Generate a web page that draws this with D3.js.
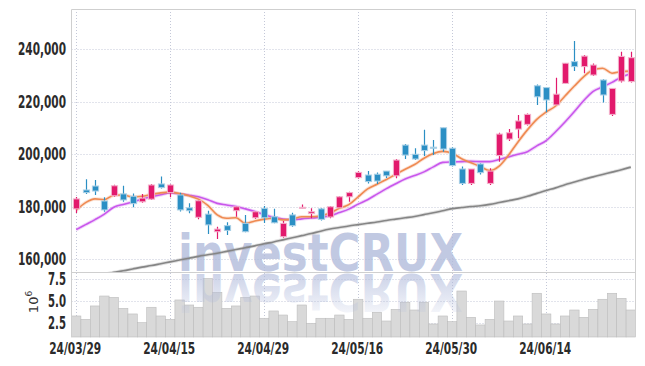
<!DOCTYPE html>
<html>
<head>
<meta charset="utf-8">
<script src="https://cdn.jsdelivr.net/npm/d3@7"></script>
<style>
  body { margin: 0; background: #fff; }
  svg { display: block; }
  .lbl { font-family: "DejaVu Sans Condensed", "DejaVu Sans", sans-serif; font-stretch: condensed; font-weight: bold; fill: #2b2b2b; }
</style>
</head>
<body>
<script>
const W = 645, H = 366;
const plotL = 71.5, plotR = 635.5;
const plotT = 9, mainBottom = 272, volBottom = 337;

// 데이터 (가격: 천원 단위)
const dateLabels = ['24/03/29', '24/04/15', '24/04/29', '24/05/16', '24/05/30', '24/06/14'];
const dateIndex = [0, 10, 20, 30, 40, 50];

const open = [179.2, 186.4, 187.9, 182.2, 184.2, 184.9, 184.0, 181.9, 182.9, 188.7,
  185.4, 184.5, 179.6, 176.0, 177.2, 170.5, 172.8, 178.5, 173.7, 175.8,
  179.4, 176.2, 168.6, 176.9, 179.4, 177.4, 179.2, 176.1, 179.6, 183.8,
  191.1, 192.1, 192.4, 193.6, 191.8, 203.5, 200.0, 203.5, 202.7, 210.1,
  202.3, 194.4, 188.9, 196.3, 188.9, 199.5, 205.8, 209.6, 211.4, 226.1,
  225.4, 218.8, 227.0, 235.3, 233.4, 230.2, 228.3, 215.2, 227.9, 227.7];
const high = [183.7, 190.5, 190.2, 183.6, 188.4, 188.0, 185.1, 184.9, 188.7, 191.5,
  188.6, 185.3, 181.3, 182.6, 178.5, 172.4, 174.1, 180.3, 176.9, 178.4,
  180.3, 179.2, 174.6, 177.7, 180.9, 179.4, 179.5, 180.3, 184.0, 185.7,
  193.5, 193.6, 193.1, 193.6, 198.2, 203.9, 202.3, 209.3, 205.4, 210.1,
  202.7, 195.3, 194.4, 196.6, 194.7, 208.2, 209.6, 215.0, 215.5, 226.6,
  225.4, 229.2, 234.8, 243.2, 237.8, 234.6, 228.6, 225.1, 239.1, 239.1];
const low = [177.6, 184.9, 184.5, 178.1, 183.8, 181.9, 179.8, 181.5, 182.6, 187.0,
  183.6, 178.2, 177.5, 175.2, 169.6, 167.7, 169.2, 176.2, 170.3, 175.3,
  173.8, 173.7, 168.2, 172.4, 179.4, 175.6, 174.8, 175.6, 179.6, 181.9,
  190.7, 188.9, 188.7, 191.0, 190.9, 198.2, 197.8, 199.3, 199.7, 201.0,
  195.3, 188.3, 188.3, 192.3, 188.3, 197.2, 205.1, 206.1, 211.0, 218.8,
  216.0, 218.8, 226.9, 231.7, 230.9, 229.8, 219.7, 214.6, 227.3, 227.3];
const close = [183.0, 185.4, 186.0, 178.8, 188.0, 182.6, 181.2, 183.3, 188.3, 187.3,
  188.3, 178.8, 178.5, 182.3, 173.1, 171.5, 171.0, 180.0, 170.5, 178.1,
  175.8, 173.9, 173.7, 172.8, 179.8, 178.1, 175.2, 180.0, 183.8, 185.4,
  193.1, 189.6, 189.8, 191.8, 197.8, 199.7, 198.2, 201.4, 202.3, 202.0,
  195.7, 188.9, 194.4, 193.0, 193.6, 207.7, 208.2, 212.7, 215.2, 221.9,
  220.7, 222.9, 234.7, 233.4, 237.4, 234.0, 222.6, 225.1, 237.3, 236.8];

// 거래량 (10^6)
const volume = [3.33, 2.95, 4.47, 5.6, 5.45, 4.2, 3.56, 2.57, 4.32, 3.33,
  2.95, 5.15, 4.58, 4.32, 7.6, 6.02, 4.2, 4.47, 5.45, 5.6,
  3.07, 3.9, 3.44, 2.68, 4.58, 2.5, 3.07, 3.07, 3.44, 2.95,
  5.23, 3.07, 3.75, 2.76, 4.09, 4.89, 4.01, 4.89, 2.42, 3.33,
  2.68, 6.17, 3.18, 2.31, 2.95, 5.03, 2.76, 3.33, 2.42, 5.91,
  3.56, 2.42, 3.33, 4.01, 3.18, 4.09, 5.23, 5.91, 5.34, 4.01];

// 이동평균선
const ma5 = [178.7, 181.6, 183.0, 182.7, 184.4, 184.5, 183.7, 184.0, 184.7, 185.3,
  185.6, 185.0, 184.2, 182.9, 180.5, 176.9, 175.6, 175.8, 173.7, 174.6,
  175.3, 175.6, 175.0, 175.3, 176.2, 176.2, 176.5, 177.6, 179.4, 180.8,
  183.8, 186.8, 188.6, 190.4, 192.4, 194.3, 196.1, 198.5, 200.3, 201.1,
  200.4, 198.3, 196.8, 195.3, 193.8, 195.5, 199.7, 204.7, 209.3, 213.3,
  216.1, 218.4, 222.2, 226.0, 229.6, 232.2, 232.8, 230.9, 231.5, 231.7];
const ma20 = [171.3, 173.2, 175.1, 177.2, 179.8, 180.9, 181.8, 182.9, 183.8, 184.6,
  185.3, 184.9, 184.4, 183.8, 182.7, 181.3, 180.7, 180.1, 179.2, 178.2,
  177.0, 176.0, 175.3, 175.0, 175.4, 175.7, 176.0, 176.6, 177.8, 179.1,
  181.0, 182.7, 184.8, 186.9, 188.8, 190.6, 191.9, 193.3, 195.2, 196.9,
  197.1, 197.2, 197.3, 197.2, 197.2, 198.0, 199.0, 200.0, 201.0, 203.2,
  205.2, 208.6, 212.3, 216.3, 220.5, 224.0, 225.7, 227.4, 229.4, 230.7];
const ma60 = [152.2, 152.9, 153.6, 154.3, 155.0, 155.6, 156.3, 157.0, 157.6, 158.3,
  159.0, 159.7, 160.4, 161.1, 161.7, 162.3, 163.0, 163.7, 164.4, 165.1,
  165.9, 166.6, 167.4, 168.2, 169.0, 169.8, 170.7, 171.5, 172.1, 172.7,
  173.2, 173.7, 174.2, 174.8, 175.3, 175.8, 176.3, 177.0, 177.7, 178.5,
  179.3, 179.7, 180.1, 180.4, 180.9, 181.6, 182.3, 183.0, 184.0, 185.1,
  186.2, 187.2, 188.4, 189.4, 190.5, 191.4, 192.3, 193.2, 194.1, 195.1];

const priceTicks = [160, 180, 200, 220, 240];
const volTicks = [2.5, 5.0, 7.5];

const upColor = '#e2196c';
const downColor = '#2b8fc4';

const svg = d3.select('body').append('svg')
  .attr('width', W)
  .attr('height', H);

const defs = svg.append('defs');
defs.append('clipPath').attr('id', 'mainClip')
  .append('rect')
  .attr('x', plotL).attr('y', plotT)
  .attr('width', plotR - plotL).attr('height', mainBottom - plotT);
const grad = defs.append('linearGradient').attr('id', 'fade')
  .attr('gradientUnits', 'userSpaceOnUse')
  .attr('x1', 0).attr('y1', mainBottom).attr('x2', 0).attr('y2', mainBottom - 44);
grad.append('stop').attr('offset', 0).attr('stop-color', '#b0badb').attr('stop-opacity', 0.65);
grad.append('stop').attr('offset', 1).attr('stop-color', '#b0badb').attr('stop-opacity', 0.1);

// 스케일
const x = d3.scaleBand()
  .domain(d3.range(open.length))
  .range([plotL, plotR])
  .padding(0);
const cx = i => x(i) + x.bandwidth() / 2;

const y = d3.scaleLinear()
  .domain([155.15, 255.35])
  .range([mainBottom, plotT]);

const yv = d3.scaleLinear()
  .domain([0.94, 8.33])
  .range([volBottom, mainBottom]);

// 그리드
const grid = svg.append('g')
  .attr('stroke', '#c4c8d8')
  .attr('stroke-width', 1)
  .attr('stroke-dasharray', '1,2');
grid.selectAll('.hg').data(priceTicks).enter().append('line')
  .attr('x1', plotL).attr('x2', plotR)
  .attr('y1', d => Math.round(y(d)) + 0.5).attr('y2', d => Math.round(y(d)) + 0.5);
grid.selectAll('.vg').data(volTicks).enter().append('line')
  .attr('x1', plotL).attr('x2', plotR)
  .attr('y1', d => Math.round(yv(d)) + 0.5).attr('y2', d => Math.round(yv(d)) + 0.5);
grid.selectAll('.xg').data(dateIndex).enter().append('line')
  .attr('x1', d => Math.round(cx(d)) + 0.5).attr('x2', d => Math.round(cx(d)) + 0.5)
  .attr('y1', plotT).attr('y2', volBottom);

// 거래량 막대
svg.append('g').selectAll('rect')
  .data(volume)
  .enter()
  .append('rect')
  .attr('x', (d, i) => x(i))
  .attr('y', d => yv(d))
  .attr('width', x.bandwidth())
  .attr('height', d => volBottom - yv(d))
  .attr('fill', '#d9d9d9')
  .attr('stroke', '#bdbdbd')
  .attr('stroke-width', 0.6);

// 워터마크
const wmFont = g => g
  .attr('x', 178).attr('y', mainBottom - 1)
  .attr('textLength', 285)
  .attr('lengthAdjust', 'spacingAndGlyphs')
  .style('font-family', 'DejaVu Sans, sans-serif')
  .style('font-weight', 'bold')
  .style('font-size', '52px')
  .text('investCRUX');
const wm = svg.append('g');
wm.append('text')
  .call(wmFont)
  .attr('fill', '#b0badb')
  .attr('fill-opacity', 0.78);
wm.append('g')
  .attr('transform', `translate(0, ${2 * mainBottom + 1}) scale(1, -1)`)
  .append('text')
  .call(wmFont)
  .attr('fill', 'url(#fade)');

// 이동평균선
const plot = svg.append('g').attr('clip-path', 'url(#mainClip)');
const line = d3.line()
  .x((d, i) => cx(i))
  .y(d => y(d))
  .curve(d3.curveMonotoneX);
[[ma60, '#858585'], [ma20, '#c957ec'], [ma5, '#ef8a52']].forEach(([arr, c]) => {
  plot.append('path').datum(arr)
    .attr('d', line)
    .attr('fill', 'none')
    .attr('stroke', c)
    .attr('stroke-opacity', 0.25)
    .attr('stroke-width', 3.5);
  plot.append('path').datum(arr)
    .attr('d', line)
    .attr('fill', 'none')
    .attr('stroke', c)
    .attr('stroke-width', 1.6);
});

// 캔들
const bodyW = x.bandwidth() * 0.66;
const candles = plot.selectAll('.candle')
  .data(d3.range(open.length))
  .enter()
  .append('g')
  .attr('class', 'candle');
candles.append('line')
  .attr('x1', i => Math.round(cx(i)) + 0.5)
  .attr('x2', i => Math.round(cx(i)) + 0.5)
  .attr('y1', i => y(high[i]))
  .attr('y2', i => y(low[i]))
  .attr('stroke', i => close[i] >= open[i] ? upColor : downColor)
  .attr('stroke-width', 1.2);
candles.append('rect')
  .attr('x', i => Math.round(cx(i)) + 0.5 - bodyW / 2)
  .attr('y', i => y(Math.max(open[i], close[i])))
  .attr('width', bodyW)
  .attr('height', i => Math.max(1, Math.abs(y(open[i]) - y(close[i]))))
  .attr('fill', i => close[i] >= open[i] ? upColor : downColor)
  .attr('stroke', i => close[i] >= open[i] ? '#f3b3cc' : '#a9d0e6')
  .attr('stroke-width', 1);

// 테두리
svg.append('path')
  .attr('d', `M${plotL},${volBottom}V${plotT + 0.5}H${plotR}V${volBottom}`)
  .attr('fill', 'none')
  .attr('stroke', '#cfcfcf')
  .attr('stroke-width', 1);
svg.append('line')
  .attr('x1', plotL).attr('x2', plotR)
  .attr('y1', mainBottom + 0.5).attr('y2', mainBottom + 0.5)
  .attr('stroke', '#cfcfcf');

// 축 라벨
svg.append('g').selectAll('text')
  .data(priceTicks)
  .enter()
  .append('text')
  .attr('class', 'lbl')
  .attr('x', 66)
  .attr('y', d => y(d) + 6)
  .attr('text-anchor', 'end')
  .attr('textLength', 48)
  .attr('lengthAdjust', 'spacingAndGlyphs')
  .style('font-size', '17px')
  .text(d => d3.format(',')(d * 1000));

svg.append('g').selectAll('text')
  .data(volTicks)
  .enter()
  .append('text')
  .attr('class', 'lbl')
  .attr('x', 66)
  .attr('y', d => yv(d) + 6)
  .attr('text-anchor', 'end')
  .attr('textLength', 18)
  .attr('lengthAdjust', 'spacingAndGlyphs')
  .style('font-size', '17px')
  .text(d => d3.format('.1f')(d));

svg.append('g').selectAll('text')
  .data(dateIndex)
  .enter()
  .append('text')
  .attr('class', 'lbl')
  .attr('x', d => cx(d) - 1)
  .attr('y', 354)
  .attr('text-anchor', 'middle')
  .attr('textLength', 52)
  .attr('lengthAdjust', 'spacingAndGlyphs')
  .style('font-size', '15px')
  .text((d, i) => dateLabels[i]);

const unit = svg.append('text')
  .attr('transform', 'translate(38, 302) rotate(-90)')
  .attr('text-anchor', 'middle')
  .style('font-family', 'DejaVu Sans, sans-serif')
  .style('font-size', '13px')
  .attr('fill', '#333');
unit.append('tspan').text('10');
unit.append('tspan').attr('dy', -6).style('font-size', '9px').text('6');
</script>
</body>
</html>
